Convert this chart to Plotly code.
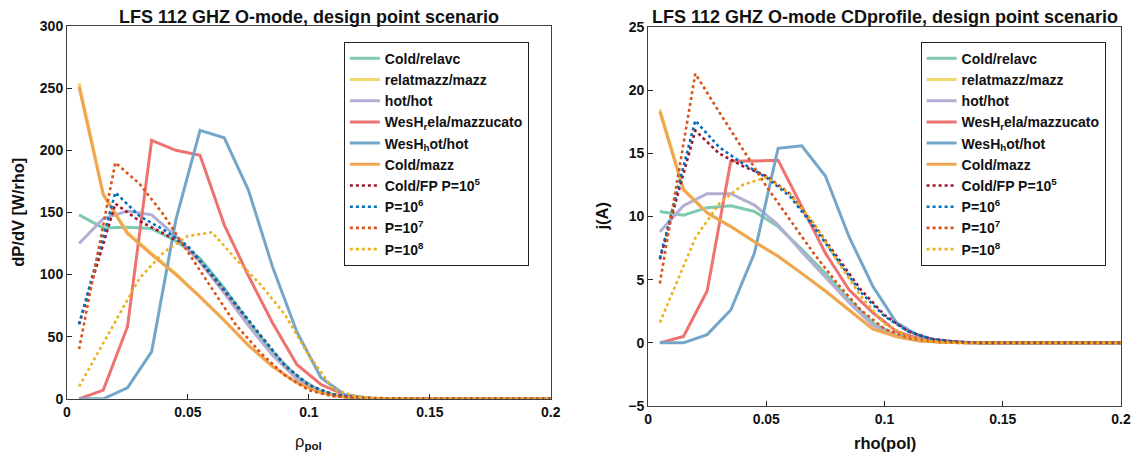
import plotly.graph_objects as go

# radial grids (rho_pol)
rho = [0.005, 0.015, 0.025, 0.035, 0.045, 0.055, 0.065, 0.075, 0.085, 0.095,
       0.105, 0.115, 0.125, 0.135, 0.145, 0.155, 0.165, 0.175, 0.185, 0.195, 0.205]
rho_fp = [0.005, 0.02, 0.03, 0.04, 0.05, 0.06, 0.07, 0.08, 0.09, 0.10,
          0.11, 0.12, 0.13, 0.14, 0.15, 0.16, 0.17, 0.18, 0.19, 0.20, 0.21]

# power density dP/dV [W/rho]
p_cold_relavc = [148, 137.5, 138, 137, 127, 113, 89, 62, 38, 18, 6, 1.5, 0.3, 0, 0, 0, 0, 0, 0, 0, 0]
p_relatmazz = [254, 165, 134, 117, 101, 82, 63, 43, 26, 13, 5, 1.5, 0.4, 0, 0, 0, 0, 0, 0, 0, 0]
p_hot_hot = [125, 145, 151, 148, 131, 110, 85, 59, 35, 16, 5, 1.2, 0.2, 0, 0, 0, 0, 0, 0, 0, 0]
p_wes_rela = [0, 7, 58, 208, 200, 196, 140, 99, 61, 27.6, 11.5, 3, 0.5, 0, 0, 0, 0, 0, 0, 0, 0]
p_wes_hot = [0, 0, 8.8, 38, 144, 216, 210, 168, 106, 54, 17, 3, 0.5, 0, 0, 0, 0, 0, 0, 0, 0]
p_cold_mazz = [251, 164, 133, 116, 100, 82, 63, 43, 26, 13, 5, 1.5, 0.4, 0, 0, 0, 0, 0, 0, 0, 0]
p_fp5 = [60, 157, 143, 133, 122, 99, 75, 51, 27, 11, 3.5, 1, 0.2, 0, 0, 0, 0, 0, 0, 0, 0]
p_fp6 = [60, 166, 147, 136, 123, 100, 76, 51, 27, 11, 3.5, 1, 0.2, 0, 0, 0, 0, 0, 0, 0, 0]
p_fp7 = [40, 190, 173, 148, 118, 88, 59, 37, 19, 7, 2, 0.5, 0, 0, 0, 0, 0, 0, 0, 0, 0]
p_fp8 = [10, 62, 97, 118, 131, 134, 112, 92, 68, 35, 8, 1.5, 0.2, 0, 0, 0, 0, 0, 0, 0, 0]

# driven current j(A)
j_cold_relavc = [10.4, 10.1, 10.7, 10.85, 10.4, 9.2, 7.4, 5.5, 3.4, 1.6, 0.6, 0.2, 0.05, 0, 0, 0, 0, 0, 0, 0, 0]
j_relatmazz = [18.5, 12.2, 10.3, 9.2, 8.0, 6.85, 5.5, 4.1, 2.6, 1.1, 0.5, 0.15, 0.05, 0, 0, 0, 0, 0, 0, 0, 0]
j_hot_hot = [8.8, 10.85, 11.8, 11.8, 10.9, 9.35, 7.2, 5.2, 3.2, 1.4, 0.5, 0.15, 0.05, 0, 0, 0, 0, 0, 0, 0, 0]
j_wes_rela = [0, 0.5, 4.1, 14.4, 14.4, 14.45, 10.8, 7.1, 4.2, 2.4, 0.9, 0.3, 0.1, 0, 0, 0, 0, 0, 0, 0, 0]
j_wes_hot = [0, 0, 0.65, 2.6, 7.1, 15.4, 15.6, 13.2, 8.4, 4.5, 1.6, 0.5, 0.1, 0, 0, 0, 0, 0, 0, 0, 0]
j_cold_mazz = [18.3, 12.1, 10.3, 9.2, 8.0, 6.85, 5.5, 4.1, 2.6, 1.1, 0.5, 0.15, 0.05, 0, 0, 0, 0, 0, 0, 0, 0]
j_fp5 = [6.6, 16.8, 15.0, 14.0, 13.2, 11.8, 9.4, 6.8, 4.2, 2.2, 0.9, 0.3, 0.1, 0, 0, 0, 0, 0, 0, 0, 0]
j_fp6 = [6.7, 17.6, 15.5, 14.2, 13.1, 11.6, 9.2, 6.6, 4.0, 2.1, 0.9, 0.3, 0.1, 0, 0, 0, 0, 0, 0, 0, 0]
j_fp7 = [4.7, 21.3, 18.3, 15.3, 12.4, 9.75, 7.1, 4.7, 2.6, 1.1, 0.4, 0.1, 0, 0, 0, 0, 0, 0, 0, 0, 0]
j_fp8 = [1.6, 8.3, 11.0, 12.5, 13.1, 11.8, 9.5, 6.5, 3.7, 1.5, 0.5, 0.1, 0, 0, 0, 0, 0, 0, 0, 0, 0]

names = ["Cold/relavc", "relatmazz/mazz", "hot/hot", "WesH<sub>r</sub>ela/mazzucato",
         "WesH<sub>h</sub>ot/hot", "Cold/mazz", "Cold/FP P=10<sup>5</sup>",
         "P=10<sup>6</sup>", "P=10<sup>7</sup>", "P=10<sup>8</sup>"]
colors = ["#7fc9b1", "#f1d86a", "#b3aed3", "#ee7370", "#74a6c9", "#f0a553",
          "#a2142f", "#0072bd", "#d95319", "#edb120"]

left = [p_cold_relavc, p_relatmazz, p_hot_hot, p_wes_rela, p_wes_hot, p_cold_mazz,
        p_fp5, p_fp6, p_fp7, p_fp8]
right = [j_cold_relavc, j_relatmazz, j_hot_hot, j_wes_rela, j_wes_hot, j_cold_mazz,
         j_fp5, j_fp6, j_fp7, j_fp8]

# the page body has an 8px default margin, so the figure is drawn 8px in
OFF = 8
W, H = 1141 - OFF, 464 - OFF
ML, MR, MT, MB = 67 - OFF, 1141 - 1121.5, 26 - OFF, 464 - 406.5
PW, PH = W - ML - MR, H - MT - MB
FONT = "Liberation Sans"


def px_x(x):
    # x measured in the 1141px-wide screenshot -> paper fraction
    return (x - OFF - ML) / PW


def px_y(y):
    return (H - (y - OFF) - MB) / PH


fig = go.Figure()
for i, (nm, c) in enumerate(zip(names, colors)):
    dotted = i >= 6
    xs = rho_fp if dotted else rho
    line = dict(color=c, width=2.6 if dotted else 3, dash="dot" if dotted else "solid")
    fig.add_trace(go.Scatter(x=xs, y=left[i], mode="lines", name=nm, line=line,
                             xaxis="x", yaxis="y", legend="legend"))
    fig.add_trace(go.Scatter(x=xs, y=right[i], mode="lines", name=nm, line=line,
                             xaxis="x2", yaxis="y2", legend="legend2"))

axis_style = dict(showline=True, mirror=True, linecolor="#404040", linewidth=1,
                  ticks="inside", ticklen=5, tickcolor="#262626", showgrid=False,
                  zeroline=False, automargin=False,
                  tickfont=dict(family=FONT, size=14, color="#111", weight="bold"))

legend_style = dict(bgcolor="white", bordercolor="#222", borderwidth=1,
                    font=dict(family=FONT, size=14, color="#111", weight="bold"),
                    xanchor="left", yanchor="top", tracegroupgap=0, itemwidth=30)

fig.update_layout(
    width=W, height=H,
    margin=dict(l=ML, r=MR, t=MT, b=MB),
    paper_bgcolor="white", plot_bgcolor="white",
    showlegend=True,
    xaxis=dict(domain=[0, px_x(551)], range=[0, 0.2], dtick=0.05, anchor="y", **axis_style),
    yaxis=dict(domain=[px_y(399.3), px_y(26)], range=[0, 300], dtick=50, anchor="x",
               **axis_style),
    xaxis2=dict(domain=[px_x(648.3), 1], range=[0, 0.2], dtick=0.05, anchor="y2", **axis_style),
    yaxis2=dict(domain=[0, px_y(27)], range=[-5, 25], dtick=5, anchor="x2", **axis_style),
    legend=dict(x=px_x(344), y=px_y(41.7), **legend_style),
    legend2=dict(x=px_x(921), y=px_y(41.7), **legend_style),
)

title_font = dict(family=FONT, size=18, color="#111", weight="bold")
label_font = dict(family=FONT, size=16.5, color="#111", weight="bold")


def label(text, x, y, font, angle=0, pad=1):
    fig.add_annotation(text=text, x=px_x(x), y=px_y(y), xref="paper", yref="paper",
                       xanchor="center", yanchor="middle", showarrow=False,
                       textangle=angle, font=font, borderpad=pad)


label("LFS 112 GHZ O-mode, design point scenario", 309, 17, title_font, pad=0)
label("LFS 112 GHZ O-mode CDprofile, design point scenario", 885, 17, title_font, pad=0)
label("dP/dV [W/rho]", 18, 213, label_font, -90)
label("j(A)", 602, 216, label_font, -90)
label("<span style='font-weight:normal'>ρ</span><sub>pol</sub>", 309, 443, label_font)
label("rho(pol)", 885, 444, label_font)

fig.write_html("out.html")
